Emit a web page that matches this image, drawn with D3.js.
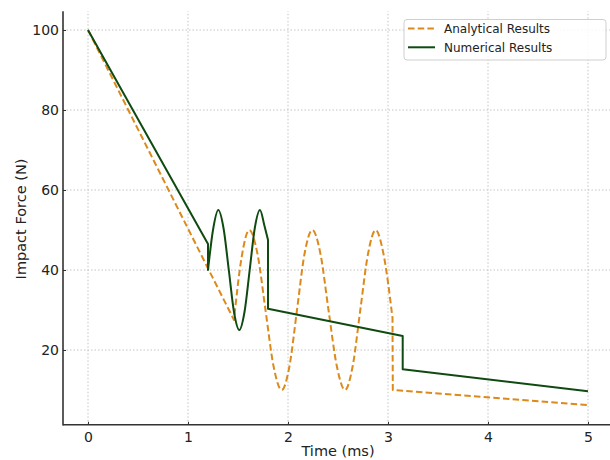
<!DOCTYPE html>
<html>
<head>
<meta charset="utf-8">
<script src="https://cdn.jsdelivr.net/npm/d3@7"></script>
<style>
  html, body { margin: 0; padding: 0; background: #fff; }
  svg { display: block; font-family: "DejaVu Sans", sans-serif; }
</style>
</head>
<body>
<svg id="chart" width="610" height="460"></svg>
<script>
// ---- data ----
const xTicks = [0, 1, 2, 3, 4, 5];
const yTicks = [20, 40, 60, 80, 100];
const seriesNames = ["Analytical Results", "Numerical Results"];

// Analytical: linear descent, oscillation, drop, linear tail
const analyticalStart = [[0, 100], [1.46, 27.5]];
const analyticalWave = [
  [1.46, 27.5], [1.535, 43], [1.613, 50], [1.695, 44], [1.775, 30], [1.855, 16],
  [1.937, 10], [2.015, 16], [2.09, 30], [2.165, 44], [2.243, 50], [2.325, 44],
  [2.405, 30], [2.488, 16], [2.57, 10], [2.647, 16], [2.723, 30], [2.8, 44],
  [2.877, 50], [2.955, 44], [3.045, 28]
];
const analyticalEnd = [[3.045, 28], [3.048, 10], [5, 6.2]];

// Numerical
const numericalStart = [[0, 100], [1.2, 46.5], [1.2, 40]];
const numericalWave = [
  [1.2, 40], [1.25, 50], [1.303, 55], [1.355, 50.5], [1.408, 40], [1.46, 29.5],
  [1.513, 25], [1.565, 29.5], [1.617, 40], [1.668, 50.5], [1.72, 55], [1.765, 51],
  [1.8, 47.5]
];
const numericalEnd = [[1.8, 47.5], [1.8, 30.3], [3.147, 23.5], [3.147, 15.2], [5, 9.7]];

// ---- drawing ----
const svg = d3.select("#chart");
const x = d3.scaleLinear().domain([-0.25, 5.25]).range([63, 613]);
const y = d3.scaleLinear().domain([0, 100]).range([430, 30]);
const yMin = 1.3, yMax = 104.7;

const gridColor = "#c4c4c4";
// grid
svg.append("g").selectAll("line").data(xTicks).join("line")
  .attr("x1", d => x(d)).attr("x2", d => x(d))
  .attr("y1", y(yMin)).attr("y2", y(yMax))
  .attr("stroke", gridColor).attr("stroke-width", 1).attr("stroke-dasharray", "1.5,2");
svg.append("g").selectAll("line").data(yTicks).join("line")
  .attr("x1", x(-0.25)).attr("x2", x(5.25))
  .attr("y1", d => y(d)).attr("y2", d => y(d))
  .attr("stroke", gridColor).attr("stroke-width", 1).attr("stroke-dasharray", "1.5,2");

const lin = d3.line().x(d => x(d[0])).y(d => y(d[1])).curve(d3.curveLinear);
const smooth = d3.line().x(d => x(d[0])).y(d => y(d[1])).curve(d3.curveMonotoneX);
const join = (a, w, b) => lin(a) + smooth(w).replace(/^M/, "L") + lin(b).replace(/^M/, "L");

const orange = "#dc8a1c";
const green = "#0f4a10";

svg.append("path")
  .attr("d", join(analyticalStart, analyticalWave, analyticalEnd))
  .attr("fill", "none").attr("stroke", orange).attr("stroke-width", 2)
  .attr("stroke-dasharray", "6.5,3.2").attr("stroke-linejoin", "round");

svg.append("path")
  .attr("d", join(numericalStart, numericalWave, numericalEnd))
  .attr("fill", "none").attr("stroke", green).attr("stroke-width", 2)
  .attr("stroke-linejoin", "round");

// axes
const xAxis = d3.axisBottom(x).tickValues(xTicks).tickFormat(d3.format("d"))
  .tickSizeInner(-3).tickSizeOuter(0).tickPadding(7);
const yAxis = d3.axisLeft(y).tickValues(yTicks).tickFormat(d3.format("d"))
  .tickSizeInner(-3).tickSizeOuter(0).tickPadding(4);

const gx = svg.append("g").attr("transform", `translate(0,${y(yMin)})`).call(xAxis);
const gy = svg.append("g").attr("transform", `translate(${x(-0.25)},0)`).call(yAxis);
gx.select(".domain").remove();
gy.select(".domain").remove();
[gx, gy].forEach(g => {
  g.selectAll(".tick line").attr("stroke", "#333").attr("stroke-width", 1);
  g.selectAll(".tick text").attr("fill", "#222").style("font-size", "14px")
    .style("font-family", "DejaVu Sans, sans-serif");
});

// spines
svg.append("line").attr("x1", x(-0.25)).attr("x2", x(-0.25))
  .attr("y1", y(yMin) + 0.75).attr("y2", y(yMax)).attr("stroke", "#333").attr("stroke-width", 1.6);
svg.append("line").attr("x1", x(-0.25)).attr("x2", x(5.25))
  .attr("y1", y(yMin)).attr("y2", y(yMin)).attr("stroke", "#333").attr("stroke-width", 1.6);

// axis labels
svg.append("text").attr("x", 338).attr("y", 456).attr("text-anchor", "middle")
  .attr("fill", "#222").style("font-size", "14.5px").text("Time (ms)");
svg.append("text").attr("transform", "translate(26,219) rotate(-90)").attr("text-anchor", "middle")
  .attr("fill", "#222").style("font-size", "14.5px").text("Impact Force (N)");

// legend
const lg = svg.append("g");
lg.append("rect").attr("x", 404).attr("y", 19.5).attr("width", 202).attr("height", 40.5)
  .attr("rx", 3).attr("fill", "#fff").attr("fill-opacity", 0.85)
  .attr("stroke", "#cfcfcf").attr("stroke-width", 1);
const legendRows = [
  { name: seriesNames[0], color: orange, dash: "6.5,3.2", yy: 28.5 },
  { name: seriesNames[1], color: green, dash: null, yy: 47.3 }
];
legendRows.forEach(r => {
  lg.append("line").attr("x1", 408).attr("x2", 435).attr("y1", r.yy).attr("y2", r.yy)
    .attr("stroke", r.color).attr("stroke-width", 2)
    .attr("stroke-dasharray", r.dash);
  lg.append("text").attr("x", 444).attr("y", r.yy).attr("dy", "0.36em")
    .attr("fill", "#222").style("font-size", "12px").text(r.name);
});
</script>
</body>
</html>
